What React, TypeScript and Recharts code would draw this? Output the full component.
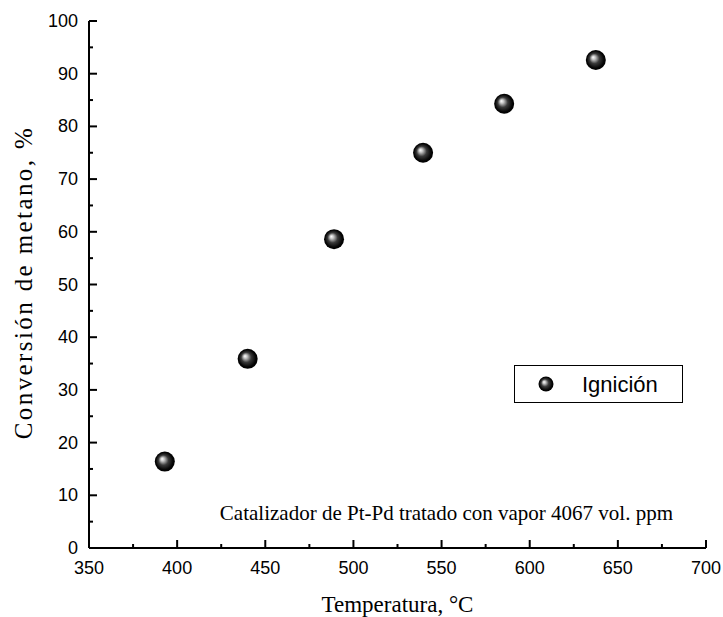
import { ScatterChart, Scatter, XAxis, YAxis } from "recharts";

const temperatura = [393, 440, 489, 539.5, 585.5, 637.5];
const conversion = [16.4, 35.9, 58.6, 75.0, 84.3, 92.6];
const xTicks = [350, 375, 400, 425, 450, 475, 500, 525, 550, 575, 600, 625, 650, 675, 700];
const yTicks = [0, 5, 10, 15, 20, 25, 30, 35, 40, 45, 50, 55, 60, 65, 70, 75, 80, 85, 90, 95, 100];
const xMajor = [350, 400, 450, 500, 550, 600, 650, 700];
const yMajor = [0, 10, 20, 30, 40, 50, 60, 70, 80, 90, 100];

const data = temperatura.map((t, i) => ({ t, c: conversion[i] }));

const SANS = "'Liberation Sans', Arial, sans-serif";
const SERIF = "'Liberation Serif', 'Times New Roman', serif";

type Side = "bottom" | "top" | "left" | "right";

const makeTick = (side: Side, majors: number[]) => (props: any) => {
  const { x, y, payload } = props;
  const major = majors.includes(payload.value);
  const len = major ? 8 : 4;
  let line;
  if (side === "bottom") line = <line x1={x} y1={y} x2={x} y2={y - len} />;
  else if (side === "top") line = <line x1={x} y1={y} x2={x} y2={y + len} />;
  else if (side === "left") line = <line x1={x} y1={y} x2={x + len} y2={y} />;
  else line = <line x1={x} y1={y} x2={x - len} y2={y} />;
  return (
    <g stroke="#000" strokeWidth={2}>
      {line}
      {major && side === "bottom" && (
        <text x={x} y={y + 26} textAnchor="middle" stroke="none" fill="#000" fontSize={18} fontFamily={SANS}>
          {payload.value}
        </text>
      )}
      {major && side === "left" && (
        <text x={x - 11} y={y + 6} textAnchor="end" stroke="none" fill="#000" fontSize={18} fontFamily={SANS}>
          {payload.value}
        </text>
      )}
    </g>
  );
};

const Sphere = (props: any) => {
  const { cx, cy } = props;
  return <circle cx={cx} cy={cy} r={10} fill="url(#sphereGrad)" />;
};

export default function App() {
  return (
    <div style={{ position: "absolute", left: 0, top: 0, width: 723, height: 617, background: "#fff" }}>
      <ScatterChart width={723} height={617} margin={{ top: 21, right: 17, bottom: 0, left: 0 }}>
        <defs>
          <radialGradient id="sphereGrad" cx="0.5" cy="0.5" r="0.5" fx="0.36" fy="0.36">
            <stop offset="0" stopColor="#ffffff" />
            <stop offset="0.18" stopColor="#c8c8c8" />
            <stop offset="0.5" stopColor="#3a3a3a" />
            <stop offset="0.85" stopColor="#050505" />
            <stop offset="1" stopColor="#000000" />
          </radialGradient>
        </defs>
        <XAxis
          xAxisId="b"
          type="number"
          dataKey="t"
          domain={[350, 700]}
          ticks={xTicks}
          interval={0}
          height={69}
          tickSize={0}
          tickMargin={0}
          tickLine={false}
          axisLine={{ stroke: "#000", strokeWidth: 2 }}
          tick={makeTick("bottom", xMajor)}
          label={{
            content: ({ viewBox }: any) => (
              <text
                x={viewBox.x + viewBox.width / 2}
                y={viewBox.y + 64}
                textAnchor="middle"
                fontSize={23}
                fontFamily={SERIF}
                fill="#000"
              >
                Temperatura, °C
              </text>
            ),
          }}
        />
        <XAxis
          xAxisId="t"
          orientation="top"
          type="number"
          dataKey="t"
          domain={[350, 700]}
          ticks={xTicks}
          interval={0}
          height={0}
          tickSize={0}
          tickMargin={0}
          tickLine={false}
          axisLine={{ stroke: "#000", strokeWidth: 2 }}
          tick={makeTick("top", xMajor)}
        />
        <YAxis
          yAxisId="l"
          type="number"
          dataKey="c"
          domain={[0, 100]}
          ticks={yTicks}
          interval={0}
          width={89}
          tickSize={0}
          tickMargin={0}
          tickLine={false}
          axisLine={{ stroke: "#000", strokeWidth: 2 }}
          tick={makeTick("left", yMajor)}
          label={{
            content: ({ viewBox }: any) => {
              const cx = viewBox.x + 23;
              const cy = viewBox.y + viewBox.height / 2 - 2;
              return (
                <text
                  x={cx}
                  y={cy}
                  textAnchor="middle"
                  dominantBaseline="central"
                  transform={`rotate(-90 ${cx} ${cy})`}
                  fontSize={25}
                  letterSpacing={2.4}
                  fontFamily={SERIF}
                  fill="#000"
                >
                  Conversión de metano, %
                </text>
              );
            },
          }}
        />
        <YAxis
          yAxisId="r"
          orientation="right"
          type="number"
          dataKey="c"
          domain={[0, 100]}
          ticks={yTicks}
          interval={0}
          width={0}
          tickSize={0}
          tickMargin={0}
          tickLine={false}
          axisLine={{ stroke: "#000", strokeWidth: 2 }}
          tick={makeTick("right", yMajor)}
        />
        <Scatter
          data={data}
          xAxisId="b"
          yAxisId="l"
          shape={<Sphere />}
          isAnimationActive={false}
        />
      </ScatterChart>
      <div
        style={{
          position: "absolute",
          left: 514,
          top: 365,
          width: 169,
          height: 38,
          boxSizing: "border-box",
          border: "1px solid #000",
          background: "#fff",
        }}
      >
        <svg width={169} height={38} style={{ position: "absolute", left: -1, top: -1 }}>
          <circle cx={32} cy={19} r={7.5} fill="url(#sphereGrad)" />
          <text x={68} y={27} fontFamily={SANS} fontSize={22} fill="#000">
            Ignición
          </text>
        </svg>
      </div>
      <div
        style={{
          position: "absolute",
          right: 723 - 673,
          top: 501,
          fontFamily: SERIF,
          fontSize: 21,
          lineHeight: "24px",
          color: "#000",
          whiteSpace: "nowrap",
        }}
      >
        Catalizador de Pt-Pd tratado con vapor 4067 vol. ppm
      </div>
    </div>
  );
}
